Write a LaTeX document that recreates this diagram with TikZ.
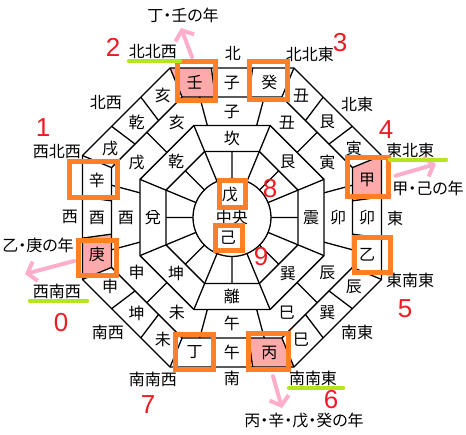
\documentclass[tikz,border=0pt]{standalone}
\usepackage{fontspec}
\newfontfamily\jpfont[RawFeature=+palt]{Noto Sans CJK JP}
\newfontfamily\numfont{Liberation Sans}
\usetikzlibrary{arrows.meta}

\definecolor{hlorange}{RGB}{255,127,39}
\definecolor{hlpink}{RGB}{255,174,201}
\definecolor{cellpink}{RGB}{255,170,170}
\definecolor{hlgreen}{RGB}{181,230,29}
\definecolor{numred}{RGB}{237,28,36}

\tikzset{
  ringline/.style={line width=1.3pt, line join=miter},
  lbl/.style={inner sep=0pt, font=\jpfont\fontsize{16}{16}\selectfont},
  num/.style={inner sep=0pt, text=numred, font=\numfont\fontsize{26}{26}\selectfont},
  hlbox/.style={draw=hlorange, line width=5pt, inner sep=0pt},
  yrarrow/.style={draw=hlpink, line width=4pt, line cap=round, -{Straight Barb[length=8pt,width=20pt]}},
  uline/.style={draw=hlgreen, line width=4pt, line cap=round}
}

\begin{document}
\begin{tikzpicture}[x=1pt,y=1pt]
  \useasboundingbox (-232,-216.5) rectangle (234,217.5);

  % pink cells
  \foreach \k in {0,2,4,6}
    \fill[cellpink, rotate=-45*\k] (-49.91,120.5) -- (-16.64,120.5) -- (-20.64,149.5) -- (-61.93,149.5) -- cycle;

  % rings
  \foreach \r in {161.82,130.43,99.58,71.44}
    \draw[ringline] (22.5:\r) \foreach \i in {1,...,7}{ -- (22.5+45*\i:\r)} -- cycle;
  \draw[ringline] (0,0) circle[radius=39pt];

  \foreach \k in {0,...,7}{
    \begin{scope}[rotate=-45*\k]
      \draw[ringline] (-49.91,120.5) -- (-61.93,149.5)
        (-16.64,120.5) -- (-20.64,149.5)
        (16.64,120.5) -- (20.64,149.5)
        (-27.34,66) -- (-38.11,92)
        (-27.34,66) -- (112.5:39)
        (0,66) -- (0,39);
    \end{scope}
  }
  \foreach \k in {0,2,4,6}
    \draw[ringline, rotate=-45*\k] (-24.65,92) -- (-32.29,120.5) (24.65,92) -- (32.29,120.5);
  \foreach \k in {1,3,5,7}
    \draw[ringline, rotate=-45*\k] (0,92) -- (0,120.5);

  % 24 mountains
  \foreach \k/\ma/\mb/\mc in {0/壬/子/癸, 1/丑/艮/寅, 2/甲/卯/乙, 3/辰/巽/巳,
                              4/丙/午/丁, 5/未/坤/申, 6/庚/酉/辛, 7/戌/乾/亥}{
    \begin{scope}[rotate=-45*\k]
      \node[lbl] (out\k-1) at (-37.3,135) {\ma};
      \node[lbl] (out\k-2) at (0,135) {\mb};
      \node[lbl] (out\k-3) at (37.3,135) {\mc};
    \end{scope}
  }
  % twelve branches
  \foreach \i/\s in {0/子,1/丑,2/寅,3/卯,4/辰,5/巳,6/午,7/未,8/申,9/酉,10/戌,11/亥}{
    \pgfmathsetmacro\r{mod(\i,3)==0 ? 106 : 110}
    \node[lbl] (br\i) at (90-30*\i:\r) {\s};
  }
  % trigrams
  \foreach \i/\s in {0/坎,1/艮,2/震,3/巽,4/離,5/坤,6/兌,7/乾}
    \node[lbl] (tg\i) at (90-45*\i:79) {\s};

  \node[lbl] (ctr) at (0,0.5) {中央};
  \node[lbl] (bo) at (-2,22.5) {戊};
  \node[lbl] (ki) at (-4,-20.5) {己};

  % directions
  \foreach \n/\s/\x/\y in {N/北/1/164.5, NNE/北北東/78/163.5, NE/北東/125/113.5,
      ENE/東北東/178/67.5, E/東/163/-0.5, ESE/東南東/178/-62.5, SE/南東/125/-114.5,
      SSE/南南東/81/-160.5, S/南/0/-160.5, SSW/南南西/-79/-161.5, SW/南西/-124/-114.5,
      WSW/西南西/-175/-73.5, W/西/-162/0.8, WNW/西北西/-175/65.5, NW/北西/-126/114.5,
      NNW/北北西/-79/165.5}
    \node[lbl] (d\n) at (\x,\y) {\s};

  % years
  \node[lbl] (yrRen) at (-49,202.5) {丁・壬の年};
  \node[lbl] (yrKou) at (196,29.5) {甲・己の年};
  \node[lbl] (yrKo) at (-194,-27.5) {乙・庚の年};
  \node[lbl] (yrHei) at (72,-203.5) {丙・辛・戊・癸の年};
  \coordinate (tipRen) at (-51,189.5);
  \coordinate (tipKou) at (204,53.5);
  \coordinate (tipKo) at (-207,-56.5);
  \coordinate (tipHei) at (50,-190.5);

  % boxes
  \node[hlbox, minimum width=38pt, minimum height=39pt] (bxRen) at (-35.5,136.5) {};
  \node[hlbox, minimum width=38pt, minimum height=38pt] (bxKi) at (36.5,137) {};
  \node[hlbox, minimum width=41.5pt, minimum height=38.5pt] (bxKou) at (136.2,40.7) {};
  \node[hlbox, minimum width=36pt, minimum height=35pt] (bxOtsu) at (140,-37) {};
  \node[hlbox, minimum width=40pt, minimum height=36.5pt] (bxHei) at (37,-134) {};
  \node[hlbox, minimum width=38pt, minimum height=35pt] (bxTei) at (-37.5,-134.5) {};
  \node[hlbox, minimum width=37.5pt, minimum height=35pt] (bxKo) at (-134.7,-40.5) {};
  \node[hlbox, minimum width=48pt, minimum height=36pt] (bxShin) at (-138,37.9) {};
  \node[hlbox, minimum width=26pt, minimum height=27pt] (bxBo) at (0.5,23.5) {};
  \node[hlbox, minimum width=27pt, minimum height=25pt] (bxJi) at (-3.2,-20.8) {};

  % arrows
  \draw[yrarrow] ([xshift=-4.5pt,yshift=2pt]bxRen.north) -- (tipRen);
  \draw[yrarrow] ([xshift=4pt,yshift=1pt]bxKou.east) -- (tipKou);
  \draw[yrarrow] ([xshift=-2pt,yshift=-3pt]bxKo.west) -- (tipKo);
  \draw[yrarrow] ([xshift=4pt,yshift=-4pt]bxHei.south) -- (tipHei);

  % underlines
  \draw[uline] ([shift={(0,-2)}]dNNW.south west) -- ([shift={(3,-2)}]dNNW.south east);
  \draw[uline] ([shift={(4,-2)}]dENE.south west) -- ([shift={(12,-2)}]dENE.south east);
  \draw[uline] ([shift={(-3,-2)}]dWSW.south west) -- ([shift={(6,-2)}]dWSW.south east);
  \draw[uline] ([shift={(0,-2)}]dSSE.south west) -- ([shift={(6,-2)}]dSSE.south east);

  % numbers
  \foreach \n/\x/\y in {0/-171/-105.5, 1/-189/89.5, 2/-119/170.5, 3/108/174.5, 4/154/87.5,
      5/173/-91.5, 6/99/-182.5, 7/-84/-187.5, 8/38/28.5, 9/29/-39.5}
    \node[num] (n\n) at (\x,\y) {\n};
\end{tikzpicture}
\end{document}
